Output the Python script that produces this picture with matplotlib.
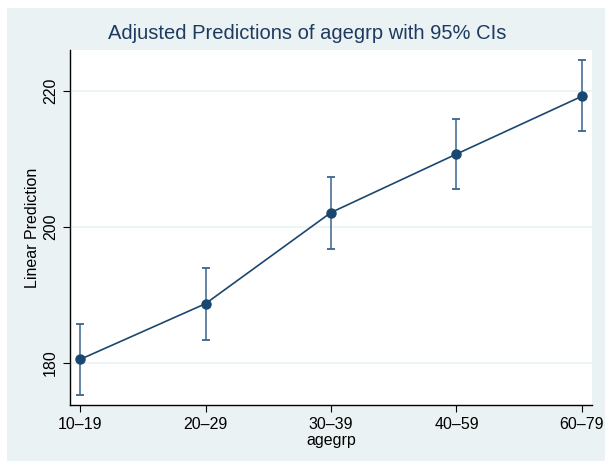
import matplotlib
matplotlib.use("Agg")
import matplotlib.pyplot as plt
from matplotlib.patches import Rectangle

categories = ["10\u201319", "20\u201329", "30\u201339", "40\u201359", "60\u201379"]
margins = [180.5, 188.7, 202.1, 210.7, 219.2]
ci_low = [175.3, 183.4, 196.8, 205.5, 214.1]
ci_high = [185.7, 193.9, 207.3, 215.8, 224.5]
yticks = [180, 200, 220]

plt.rcParams['font.family'] = ['Liberation Sans', 'DejaVu Sans']
bg = "#eaf2f3"
navy = "#1a476f"

fig = plt.figure(figsize=(6.05, 4.61), dpi=100)
fig.patch.set_facecolor("white")
W, H = 605, 461
fig.patches.append(Rectangle((7 / W, 0), 1 - 7 / W, 1 - 8 / H, transform=fig.transFigure,
                             facecolor=bg, edgecolor="none", zorder=-10))

ax = fig.add_axes([70 / W, 1 - 405 / H, (592 - 70) / W, (405 - 50) / H])
ax.set_facecolor("white")
x = list(range(len(categories)))
lo_err = [m - l for m, l in zip(margins, ci_low)]
hi_err = [h - m for m, h in zip(margins, ci_high)]
ax.errorbar(x, margins, yerr=[lo_err, hi_err], fmt="none", ecolor="#3a6490",
            elinewidth=1.1, capsize=3, capthick=1.3, zorder=3)
ax.plot(x, margins, color=navy, lw=1.2, marker="o", markersize=6.5, zorder=4)

ax.set_xlim(-0.08, 4.08)
ax.set_ylim(173.8, 226.0)
ax.set_xticks(x)
ax.set_xticklabels(categories, fontsize=11.5)
ax.set_yticks(yticks)
ax.set_yticklabels([str(t) for t in yticks], fontsize=11.5, rotation=90, va="center")
ax.yaxis.grid(True, color=bg, lw=1.2)
ax.set_axisbelow(True)
for s in ["top", "right"]:
    ax.spines[s].set_visible(False)
for s in ["left", "bottom"]:
    ax.spines[s].set_color("black")
    ax.spines[s].set_linewidth(1.0)
ax.tick_params(direction="out", length=5, width=0.8, color="black", labelcolor="black")
ax.set_xlabel("agegrp", fontsize=11.5, labelpad=1)
ax.set_ylabel("Linear Prediction", fontsize=11.5, labelpad=2)
fig.text(307 / W, 1 - 33 / H, "Adjusted Predictions of agegrp with 95% CIs",
         ha="center", va="center", fontsize=14.5, color="#1e3a60")

fig.savefig("out.png", dpi=100, facecolor=fig.get_facecolor())
